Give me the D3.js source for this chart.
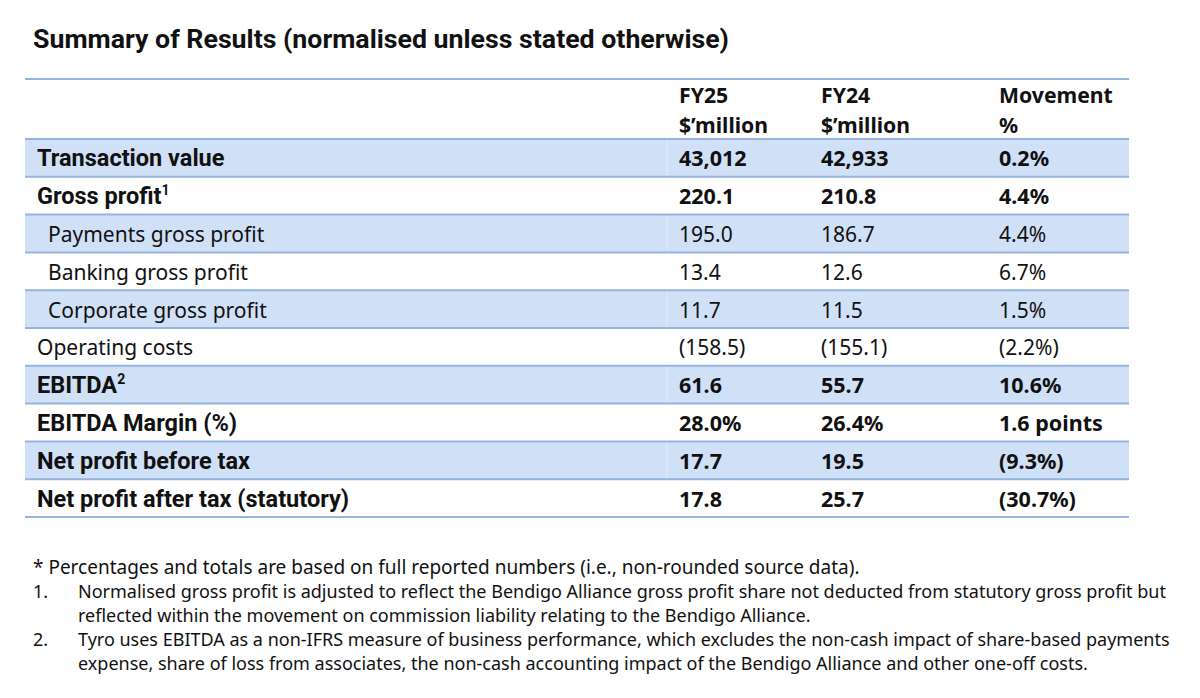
<!DOCTYPE html>
<html>
<head>
<meta charset="utf-8">
<script src="https://cdnjs.cloudflare.com/ajax/libs/d3/7.8.5/d3.min.js"></script>
<style>
  body { margin: 0; background: #fff; }
  svg text { fill: #111; }
</style>
</head>
<body>
<svg id="chart" width="1200" height="698"></svg>
<script>
// Table data
var rowLabels = ["Transaction value", "Gross profit", "Payments gross profit", "Banking gross profit",
  "Corporate gross profit", "Operating costs", "EBITDA", "EBITDA Margin (%)",
  "Net profit before tax", "Net profit after tax (statutory)"];
var labelNotes = ["", "1", "", "", "", "", "2", "", "", ""];
var rowLevel = ["total", "total", "sub", "sub", "sub", "line", "total", "total", "total", "total"];
var fy25 = ["43,012", "220.1", "195.0", "13.4", "11.7", "(158.5)", "61.6", "28.0%", "17.7", "17.8"];
var fy24 = ["42,933", "210.8", "186.7", "12.6", "11.5", "(155.1)", "55.7", "26.4%", "19.5", "25.7"];
var movement = ["0.2%", "4.4%", "4.4%", "6.7%", "1.5%", "(2.2%)", "10.6%", "1.6 points", "(9.3%)", "(30.7%)"];
var headers = [["FY25", "$\u2019million"], ["FY24", "$\u2019million"], ["Movement", "%"]];

var title = "Summary of Results (normalised unless stated otherwise)";
var footnotes = [
  { mark: "", lines: ["* Percentages and totals are based on full reported numbers (i.e., non-rounded source data)."] },
  { mark: "1.", lines: ["Normalised gross profit is adjusted to reflect the Bendigo Alliance gross profit share not deducted from statutory gross profit but",
    "reflected within the movement on commission liability relating to the Bendigo Alliance."] },
  { mark: "2.", lines: ["Tyro uses EBITDA as a non-IFRS measure of business performance, which excludes the non-cash impact of share-based payments",
    "expense, share of loss from associates, the non-cash accounting impact of the Bendigo Alliance and other one-off costs."] }
];

var svg = d3.select("#chart");
var boldFont = "Roboto, 'Noto Sans', sans-serif";
var regFont = "'Noto Sans', sans-serif";
var lineColor = "#95b3e0";
var shade = "#d0e0f7";

var left = 25, right = 1129;
var tableTop = 79, headTop = 139, tableBottom = 517;
var colX = [679, 821, 999];

var y = d3.scaleBand()
  .domain(d3.range(rowLabels.length))
  .range([headTop, tableBottom]);

svg.append("text")
  .attr("x", 33).attr("y", 48)
  .attr("font-family", boldFont).attr("font-weight", 700)
  .attr("font-size", 26)
  .attr("textLength", 696).attr("lengthAdjust", "spacingAndGlyphs")
  .text(title);

// shaded rows
var shaded = d3.range(rowLabels.length).filter(function(i) { return i % 2 === 0; });
svg.selectAll("rect.shade")
  .data(shaded)
  .join("rect")
  .attr("class", "shade")
  .attr("x", left).attr("width", right - left)
  .attr("y", function(i) { return y(i); })
  .attr("height", y.bandwidth())
  .attr("fill", shade);

// faint cell divider in shaded rows
svg.selectAll("line.div")
  .data(shaded)
  .join("line")
  .attr("class", "div")
  .attr("x1", 667).attr("x2", 667)
  .attr("y1", function(i) { return y(i) + 1; })
  .attr("y2", function(i) { return y(i) + y.bandwidth() - 1; })
  .attr("stroke", "#e6eefb").attr("stroke-width", 1);

// horizontal rules
var rules = [tableTop, headTop].concat(d3.range(rowLabels.length).map(function(i) { return y(i) + y.bandwidth(); }));
svg.selectAll("line.rule")
  .data(rules)
  .join("line")
  .attr("class", "rule")
  .attr("x1", left).attr("x2", right)
  .attr("y1", function(d) { return d; }).attr("y2", function(d) { return d; })
  .attr("stroke", lineColor).attr("stroke-width", 2);

// header
headers.forEach(function(h, c) {
  h.forEach(function(t, k) {
    svg.append("text")
      .attr("x", colX[c]).attr("y", 103 + k * 30)
      .attr("font-family", regFont).attr("font-weight", 700)
      .attr("font-size", 21.2)
      .text(t);
  });
});

// row labels
var labels = svg.selectAll("text.label")
  .data(rowLabels)
  .join("text")
  .attr("class", "label")
  .attr("x", function(d, i) { return rowLevel[i] === "sub" ? 48 : 37; })
  .attr("y", function(d, i) { return y(i) + y.bandwidth() / 2 + 8.5; })
  .attr("font-family", function(d, i) { return rowLevel[i] === "total" ? boldFont : regFont; })
  .attr("font-weight", function(d, i) { return rowLevel[i] === "total" ? 700 : 400; })
  .attr("font-size", function(d, i) { return rowLevel[i] === "total" ? 23.5 : 21; });
labels.append("tspan").text(function(d) { return d; });
labels.append("tspan")
  .attr("dy", -9).attr("font-size", 14)
  .text(function(d, i) { return labelNotes[i]; });

// value columns
[fy25, fy24, movement].forEach(function(col, c) {
  svg.selectAll("text.col" + c)
    .data(col)
    .join("text")
    .attr("class", "col" + c)
    .attr("x", colX[c])
    .attr("y", function(d, i) { return y(i) + y.bandwidth() / 2 + 8.5; })
    .attr("font-family", regFont)
    .attr("font-weight", function(d, i) { return rowLevel[i] === "total" ? 700 : 400; })
    .attr("font-size", function(d, i) { return rowLevel[i] === "total" ? 21.5 : 21; })
    .text(function(d) { return d; });
});

// footnotes
var fy = 574;
footnotes.forEach(function(f) {
  var size = f.mark ? 18 : 19;
  if (f.mark) {
    svg.append("text").attr("x", 33).attr("y", fy)
      .attr("font-family", regFont).attr("font-size", size).text(f.mark);
  }
  f.lines.forEach(function(line) {
    svg.append("text")
      .attr("x", f.mark ? 78 : 33).attr("y", fy)
      .attr("font-family", regFont).attr("font-size", size)
      .text(line);
    fy += 24;
  });
});
</script>
</body>
</html>
